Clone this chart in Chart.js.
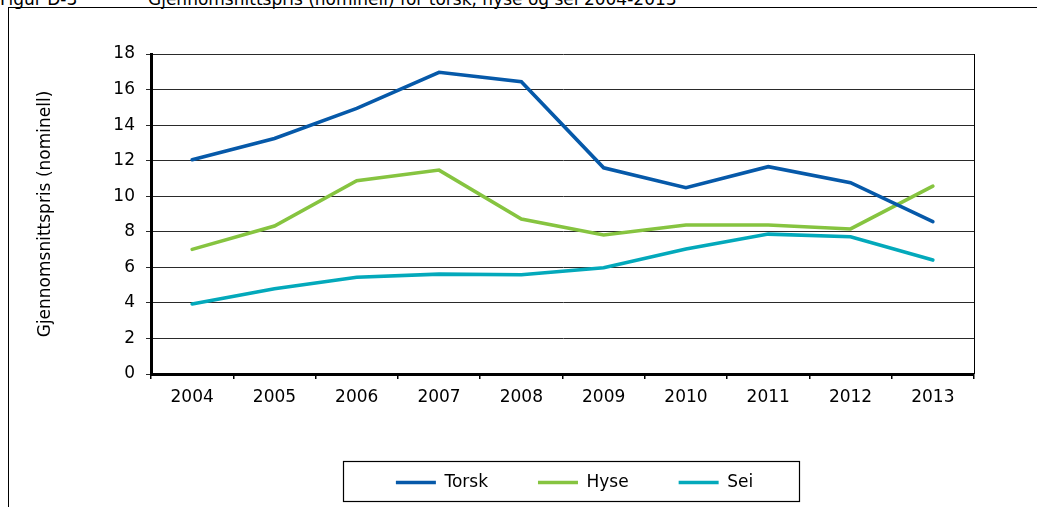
<!DOCTYPE html>
<html>
<head>
<meta charset="utf-8">
<script src="https://cdn.jsdelivr.net/npm/chart.js@4"></script>
<style>
  html, body { margin: 0; padding: 0; background: #fff; overflow: hidden; }
  body { width: 1037px; height: 507px; position: relative; font-family: 'DejaVu Sans', sans-serif; }
  .title { position: absolute; left: 0; top: -9px; font-size: 17px; line-height: 17px; white-space: nowrap; color: #000; }
  .title span { position: absolute; left: 148px; top: 0; }
  .frame { position: absolute; left: 8px; top: 7px; width: 1100px; height: 600px; border-left: 1px solid #000; border-top: 1px solid #000; }
  .wrap { position: absolute; left: 0; top: 0; width: 1037px; height: 507px; }
</style>
</head>
<body>
<div class="title">Figur D-3<span>Gjennomsnittspris (nominell) for torsk, hyse og sei 2004-2013</span></div>
<div class="frame"></div>
<div class="wrap"><canvas id="chart"></canvas></div>
<script>
// data
const years = ['2004', '2005', '2006', '2007', '2008', '2009', '2010', '2011', '2012', '2013'];
const torsk = [12.05, 13.25, 14.94, 16.97, 16.44, 11.6, 10.48, 11.66, 10.76, 8.57];
const hyse = [7.01, 8.32, 10.87, 11.47, 8.72, 7.82, 8.38, 8.38, 8.16, 10.57];
const sei = [3.94, 4.8, 5.44, 5.62, 5.58, 5.98, 7.03, 7.87, 7.72, 6.41];

Chart.defaults.font.family = "'DejaVu Sans', sans-serif";
Chart.defaults.font.size = 17;
Chart.defaults.color = '#000';

// right edge of plot + legend frame
const extras = {
   id: 'extras',
   afterLayout(chart){
      chart.legend.left += 12
      chart.legend.right += 12
   },
   afterDraw(chart){
      const ctx = chart.ctx
      const a = chart.chartArea
      ctx.save()
      ctx.strokeStyle = '#000'
      ctx.lineWidth = 1
      ctx.beginPath()
      ctx.moveTo(a.right + 0.5, a.top)
      ctx.lineTo(a.right + 0.5, a.bottom)
      ctx.stroke()

      const hb = chart.legend.legendHitBoxes
      if(hb && hb.length){
         const first = hb[0], last = hb[hb.length - 1]
         const cy = first.top + first.height / 2 - 2
         const l = Math.round(first.left - 53) + 0.5
         const r = Math.round(last.left + last.width + 46) + 0.5
         ctx.lineWidth = 1.2
         ctx.strokeRect(l, Math.round(cy - 20) + 0.5, r - l, 40)
      }
      ctx.restore()
   }
}

new Chart(document.getElementById('chart'), {
   type: 'line',
   data: {
      labels: years,
      datasets: [
         { label: 'Torsk', data: torsk, borderColor: '#0659A9', backgroundColor: '#0659A9', borderWidth: 3.6 },
         { label: 'Hyse', data: hyse, borderColor: '#86C440', backgroundColor: '#86C440', borderWidth: 3.6 },
         { label: 'Sei', data: sei, borderColor: '#03A9BB', backgroundColor: '#03A9BB', borderWidth: 3.6 }
      ]
   },
   options: {
      responsive: true,
      maintainAspectRatio: false,
      animation: false,
      layout: { padding: { left: 31, top: 54, right: 63, bottom: 6 } },
      elements: {
         line: { tension: 0, borderCapStyle: 'round', borderJoinStyle: 'miter' },
         point: { radius: 0, hoverRadius: 0 }
      },
      plugins: {
         tooltip: { enabled: false },
         legend: {
            position: 'bottom',
            fullSize: false,
            labels: {
               usePointStyle: true,
               pointStyle: 'line',
               pointStyleWidth: 40,
               padding: 50,
               color: '#000',
               font: { size: 17 }
            }
         }
      },
      scales: {
         x: {
            offset: true,
            afterFit: (scale) => { scale.height = 50 },
            grid: { drawOnChartArea: false, drawTicks: true, tickLength: 5, color: '#000', lineWidth: 1.5, offset: true },
            border: { color: '#000', width: 3 },
            ticks: { padding: 8, maxRotation: 0 }
         },
         y: {
            min: 0,
            max: 18,
            afterFit: (scale) => { scale.width = 120 },
            ticks: { stepSize: 2, padding: 11 },
            grid: { color: '#2a2a2a', lineWidth: 1, tickLength: 5 },
            border: { color: '#000', width: 3 },
            title: { display: true, text: 'Gjennomsnittspris (nominell)', font: { size: 17 }, padding: { top: 4, bottom: 0 } }
         }
      }
   },
   plugins: [extras]
})
</script>
</body>
</html>
